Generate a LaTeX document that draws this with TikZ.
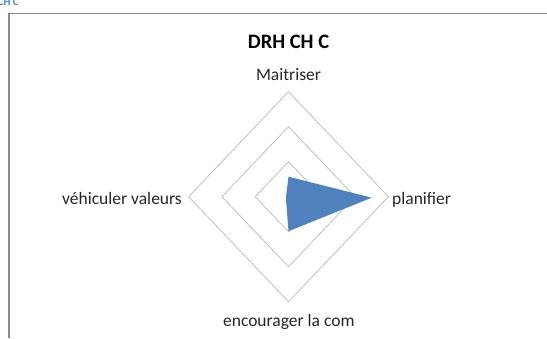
\documentclass[tikz,border=0pt]{standalone}
\usepackage{fontspec}
\setmainfont{Carlito}
\usetikzlibrary{calc}
\definecolor{framegray}{HTML}{8C8C8C}
\definecolor{gridgray}{HTML}{C4C4C4}
\definecolor{seriesblue}{HTML}{4F81BD}
\definecolor{headblue}{HTML}{4A86D0}
\begin{document}
\begin{tikzpicture}[x=1pt,y=-1pt,
  axislabel/.style={font=\fontsize{17.5}{20}\selectfont, text=black!85, inner sep=0pt},
  ring/.style={draw=gridgray, line width=0.9pt},
  chartframe/.style={draw=framegray, line width=1.4pt}]
  \useasboundingbox (0,0) rectangle (547,338);
  % heading above the chart, cut by the page edge
  \begin{scope}
    \clip (0,0) rectangle (60,6);
    \node[anchor=base east, inner sep=0pt, text=headblue,
          font=\fontsize{11}{13}\selectfont\bfseries] (head) at (19,5) {CH C};
  \end{scope}
  % chart area border
  \draw[chartframe] (9,338) -- (9,13.5) -- (547,13.5);
  % radar grid: three concentric diamonds
  \coordinate (c) at (288.5,196.7);
  \foreach \k in {1,2,3} {
    \draw[ring] ($(c)+(0,-35*\k)$) -- ($(c)+(33.3*\k,0)$) -- ($(c)+(0,35*\k)$)
      -- ($(c)+(-33.3*\k,0)$) -- cycle;
  }
  % data series
  \fill[seriesblue] ($(c)+(0,-20)$) -- ($(c)+(83.3,1)$) -- ($(c)+(0,34.5)$) -- ($(c)+(-2.6,1)$) -- cycle;
  % title and axis labels
  \node[font=\fontsize{20.5}{23}\selectfont\bfseries, inner sep=0pt, anchor=base] (title) at (288.5,48) {DRH CH C};
  \node[axislabel, anchor=base] (top) at (288.5,80) {Maitriser};
  \node[axislabel, anchor=base west] (right) at (392,204) {planifier};
  \node[axislabel, anchor=base east] (left) at (182,204) {véhiculer valeurs};
  \node[axislabel, anchor=base] (bottom) at (288.8,326) {encourager la com};
\end{tikzpicture}
\end{document}
